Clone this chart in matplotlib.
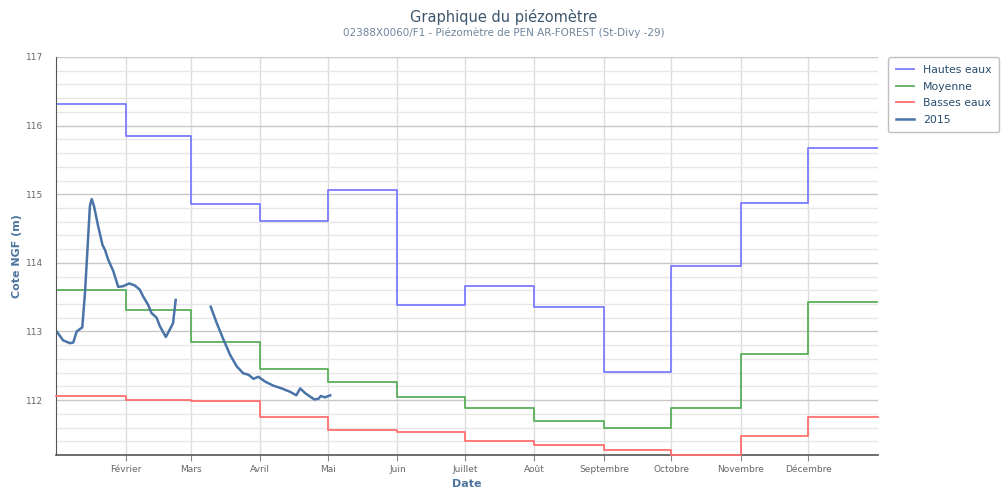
import numpy as np
import pandas as pd
import matplotlib
matplotlib.use("Agg")
import matplotlib.pyplot as plt
import matplotlib.dates as mdates
from matplotlib.ticker import MultipleLocator, NullFormatter

# the chart's time axis spans a leap year (Feb has 29 days), so use 2016 as base
months = pd.date_range("2016-01-01", periods=12, freq="MS")
hautes = [116.31, 115.85, 114.86, 114.61, 115.06, 113.39, 113.67, 113.35, 112.41, 113.95, 114.87, 115.67]
moyenne = [113.61, 113.32, 112.84, 112.46, 112.27, 112.05, 111.89, 111.70, 111.60, 111.89, 112.67, 113.43]
basses = [112.06, 112.00, 111.99, 111.75, 111.57, 111.53, 111.41, 111.34, 111.27, 111.20, 111.48, 111.75]

# 2015 measurements (day of year, level)
days_a = [0.3, 3.2, 6.2, 7.7, 9.2, 11.7, 12.9, 13.6, 15.1, 15.9, 16.9, 18.8, 20.7, 21.8,
          23.2, 25.5, 27.7, 29.9, 32.6, 35.1, 37.3, 38.8, 41.0, 42.5, 44.8, 46.2, 48.9,
          50.7, 52.1, 53.3]
vals_a = [113.00, 112.87, 112.83, 112.84, 113.00, 113.06, 113.56, 113.96, 114.83, 114.93,
          114.83, 114.53, 114.26, 114.19, 114.05, 113.88, 113.65, 113.66, 113.70, 113.67,
          113.61, 113.51, 113.39, 113.27, 113.20, 113.08, 112.92, 113.03, 113.12, 113.46]
days_b = [68.9, 71.6, 74.6, 77.5, 80.5, 83.4, 85.7, 87.9, 90.1, 93.1, 96.8, 100.5, 104.3,
          107.0, 108.7, 111.0, 113.2, 115.0, 116.9, 117.9, 119.8, 122.1]
vals_b = [113.36, 113.12, 112.88, 112.66, 112.49, 112.39, 112.37, 112.31, 112.34, 112.27,
          112.21, 112.17, 112.12, 112.07, 112.17, 112.10, 112.05, 112.01, 112.02, 112.06,
          112.04, 112.07]

month_labels = ["Février", "Mars", "Avril", "Mai", "Juin", "Juillet", "Août",
                "Septembre", "Octobre", "Novembre", "Décembre"]

plt.rcParams['font.family'] = ['DejaVu Sans']

fig = plt.figure(figsize=(10.08, 4.96), dpi=100)
ax = fig.add_axes([56 / 1008, 1 - 455 / 496, 822 / 1008, 398 / 496])

start = pd.Timestamp("2016-01-01")
end = pd.Timestamp("2017-01-01")

step_x = list(months) + [end]
ax.step(step_x, hautes + [hautes[-1]], where="post", color="#7b7bff", lw=1.3, label="Hautes eaux")
ax.step(step_x, moyenne + [moyenne[-1]], where="post", color="#5aaf5a", lw=1.3, label="Moyenne")
ax.step(step_x, basses + [basses[-1]], where="post", color="#ff6f6f", lw=1.3, label="Basses eaux",
        zorder=3, clip_on=False)

xa = [start + pd.Timedelta(days=d) for d in days_a]
xb = [start + pd.Timedelta(days=d) for d in days_b]
ax.plot(xa, vals_a, color="#4a74a8", lw=1.8, label="2015")
ax.plot(xb, vals_b, color="#4a74a8", lw=1.8)

ax.set_xlim(start, end)
ax.set_ylim(111.2, 117)

# grid
ax.yaxis.set_major_locator(MultipleLocator(1))
ax.yaxis.set_minor_locator(MultipleLocator(0.2))
ax.yaxis.set_minor_formatter(NullFormatter())
ax.grid(True, which="major", axis="y", color="#c8c8c8", lw=1)
ax.grid(True, which="minor", axis="y", color="#e6e6e6", lw=1)
ax.set_xticks(list(months[1:]))
ax.set_xticklabels(month_labels)
ax.grid(True, which="major", axis="x", color="#dcdcdc", lw=1)
ax.set_axisbelow(True)

ax.tick_params(axis="y", which="both", length=0, labelsize=6.5, labelcolor="#666666", pad=9)
ax.tick_params(axis="x", which="major", length=4, color="#888888", labelsize=6.5,
               labelcolor="#666666", pad=3)

for s in ["top", "right"]:
    ax.spines[s].set_visible(False)
ax.spines["left"].set_color("#555555")
ax.spines["bottom"].set_color("#555555")
ax.spines["bottom"].set_linewidth(1.2)

ax.set_ylabel("Cote NGF (m)", color="#4d759e", fontsize=8, fontweight="bold", labelpad=3)
ax.set_xlabel("Date", color="#4d759e", fontsize=8, fontweight="bold", labelpad=4)

fig.text(0.5, 1 - 17 / 496, "Graphique du piézomètre", ha="center", va="center",
         fontsize=10.5, color="#3e576f")
fig.text(0.5, 1 - 33 / 496, "02388X0060/F1 - Piézomètre de PEN AR-FOREST (St-Divy -29)",
         ha="center", va="center", fontsize=7.5, color="#6d869f")

leg = ax.legend(loc="upper left", bbox_to_anchor=(883 / 1008, 1 - 52 / 496),
                bbox_transform=fig.transFigure, fontsize=7.8, frameon=True,
                fancybox=True, edgecolor="#b0b0b0", handlelength=1.7,
                borderpad=0.7, labelspacing=0.6)
for t in leg.get_texts():
    t.set_color("#274b6d")

fig.savefig("out.png", dpi=100)
